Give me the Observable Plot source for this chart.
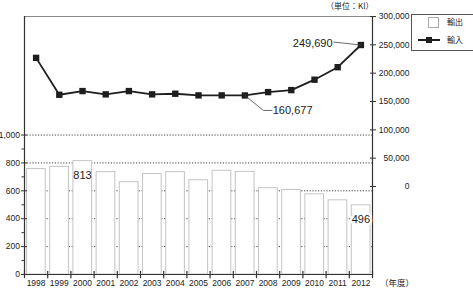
<!DOCTYPE html>
<html><head><meta charset="utf-8">
<script src="https://cdn.jsdelivr.net/npm/d3@7"></script>
<script src="https://cdn.jsdelivr.net/npm/@observablehq/plot@0.6"></script>
<style>
body{margin:0;background:#fff;}
#wrap{position:relative;width:473px;height:301px;overflow:hidden;font-family:"Liberation Sans",Arial,sans-serif;color:#222;}
.jp{font-family:"Noto Sans CJK JP",sans-serif;}
</style></head>
<body><div id="wrap"></div>
<script>
// Data
const years = [1998,1999,2000,2001,2002,2003,2004,2005,2006,2007,2008,2009,2010,2011,2012];
const exportVals = [756,772,813,734,662,720,734,676,744,736,619,606,575,532,496];   // 輸出 (left axis)
const importVals = [227000,161900,168400,162600,168400,162600,163700,160800,160800,160677,166600,170100,188500,210500,249690]; // 輸入 (right axis)
const leftTicks = [0,200,400,600,800,1000];
const leftMinor = [100,300,500,700,900];
const rightTicks = [0,50000,100000,150000,200000,250000,300000];
const seriesNames = ["輸出","輸入"];
const unitLabel = "（単位：Kl）";
const xUnitLabel = "（年度）";

const fmt = d3.format(",");
// right axis mapped onto the left scale
const yMax = 1850, r0 = 631, k = (yMax - r0) / 300000;
const toL = v => r0 + v * k;
const fromL = d => Math.round((d - r0) / k / 1000) * 1000;

const bars = years.map((y,i)=>({year:y, v:exportVals[i]}));
const pts = years.map((y,i)=>({year:y, v:importVals[i], yl:toL(importVals[i])}));
const bounds = d3.range(years.length+1).map(i => years[0]-0.5+i);

const iMin = 9, iMax = 14; // annotated points (2007, 2012)
const pA = pts[iMin], pB = pts[iMax];
const leadA = [{x:pA.year,y:pA.yl},{x:pA.year+0.8,y:toL(pA.v-26500)},{x:pA.year+1.17,y:toL(pA.v-26500)}];
const leadB = [{x:pB.year,y:pB.yl},{x:pB.year-1.17,y:toL(pB.v+5200)}];

const dotted = {stroke:"#444", strokeDasharray:"1.2,1.6", strokeWidth:1};
const plot = Plot.plot({
  width:473, height:301,
  marginLeft:24, marginRight:101, marginTop:16, marginBottom:27,
  style:{fontFamily:"'Liberation Sans', Arial, sans-serif", fontSize:"8.5px", color:"#222", background:"transparent"},
  x:{domain:[years[0]-0.5, years[years.length-1]+0.5], axis:null},
  y:{domain:[0,yMax], axis:null},
  marks:[
    Plot.ruleY([200,400,600,800,1000], dotted),
    Plot.rectY(bars, {x1:d=>d.year-0.5, x2:d=>d.year+0.5, y:"v", fill:"white", stroke:"#c4c4c4", strokeWidth:1, insetLeft:2.5, insetRight:2}),
    Plot.frame({anchor:"top", stroke:"#888"}),
    Plot.frame({anchor:"left", stroke:"#333", strokeWidth:1.2}),
    Plot.frame({anchor:"right", stroke:"#333", strokeWidth:1.2}),
    Plot.frame({anchor:"bottom", stroke:"#333", strokeWidth:1.2}),
    Plot.ruleX(bounds, {y1:-30, y2:22, stroke:"#333", strokeWidth:1.2, clip:false}),
    Plot.axisX(years, {anchor:"bottom", tickSize:0, tickPadding:5, tickFormat:d=>String(d), fontSize:8.5, fill:"#222"}),
    Plot.axisY(leftTicks, {anchor:"left", tickSize:3, tickPadding:1.5, tickFormat:fmt, fontSize:8.5, stroke:"#333", fill:"#222"}),
    Plot.axisY(leftTicks, {anchor:"left", tickSize:-3, tickFormat:()=>"", stroke:"#333"}),
    Plot.axisY(leftMinor, {anchor:"left", tickSize:2.5, tickFormat:()=>"", stroke:"#333"}),
    Plot.axisY(rightTicks.map(toL), {anchor:"right", tickSize:3, tickPadding:34, textAnchor:"end", tickFormat:d=>fmt(fromL(d)), fontSize:8.5, stroke:"#333", fill:"#222"}),
    Plot.axisY(rightTicks.map(toL), {anchor:"right", tickSize:-3, tickFormat:()=>"", stroke:"#333"}),
    Plot.line(pts, {x:"year", y:"yl", stroke:"#1e1e1e", strokeWidth:1.8}),
    Plot.dot(pts, {x:"year", y:"yl", symbol:"square", r:3.6, fill:"#1e1e1e", stroke:"none"}),
    Plot.line(leadA, {x:"x", y:"y", stroke:"#444", strokeWidth:0.8}),
    Plot.line(leadB, {x:"x", y:"y", stroke:"#444", strokeWidth:0.8}),
    Plot.text([pA], {x:d=>d.year+1.2, y:()=>toL(pA.v-26500), text:d=>fmt(d.v), textAnchor:"start", fontSize:11, fill:"#222"}),
    Plot.text([pB], {x:d=>d.year-1.22, y:()=>toL(pB.v+3500), text:d=>fmt(d.v), textAnchor:"end", fontSize:11, fill:"#222"}),
    Plot.text([bars[2]], {x:"year", y:"v", dy:14, text:d=>String(d.v), fontSize:11, fill:"#222"}),
    Plot.text([bars[14]], {x:"year", y:"v", dy:14.5, text:d=>String(d.v), fontSize:11, fill:"#222", stroke:"white", strokeWidth:5})
  ]
});
const wrap = document.getElementById("wrap");
plot.style.position="absolute"; plot.style.left="0"; plot.style.top="0";
wrap.appendChild(plot);

function add(html, css){const d=document.createElement("div");d.innerHTML=html;d.style.cssText="position:absolute;"+css;wrap.appendChild(d);return d;}
add(unitLabel, "left:326px;top:1px;font-size:8px;line-height:10px;white-space:nowrap;font-family:'Noto Sans CJK JP',sans-serif;color:#222;");
add(xUnitLabel, "left:380px;top:276px;font-size:8.5px;white-space:nowrap;font-family:'Noto Sans CJK JP',sans-serif;color:#222;");
// legend
const lg = add("", "left:411px;top:14px;width:80px;height:35px;border:1px solid #555;background:#fff;");
lg.innerHTML = `
<div style="position:absolute;left:16px;top:2px;width:9px;height:9px;border:1px solid #aaa;background:#fff"></div>
<div class="jp" style="position:absolute;left:35px;top:0px;font-size:8px;line-height:14px;color:#222">${seriesNames[0]}</div>
<div style="position:absolute;left:6px;top:24px;width:22px;height:1.8px;background:#1e1e1e"></div>
<div style="position:absolute;left:14px;top:22px;width:6px;height:6px;background:#1e1e1e"></div>
<div class="jp" style="position:absolute;left:35px;top:18px;font-size:8px;line-height:14px;color:#222">${seriesNames[1]}</div>`;
</script></body></html>
